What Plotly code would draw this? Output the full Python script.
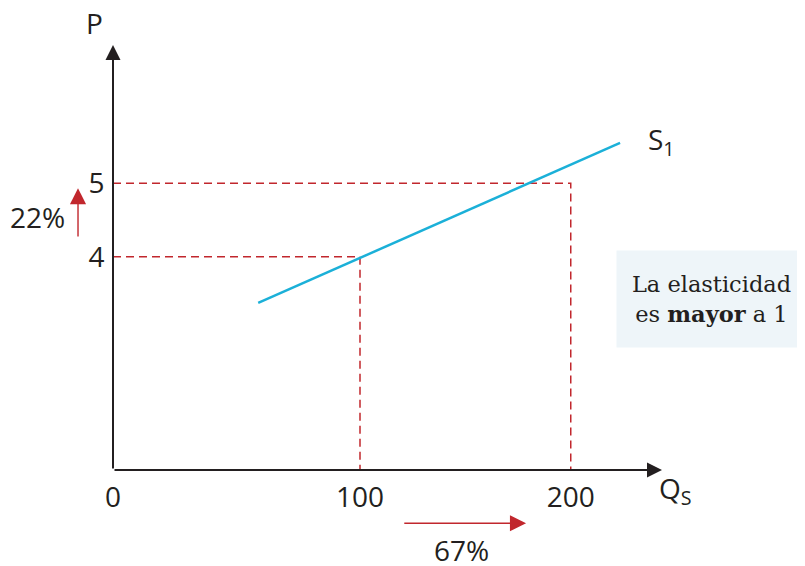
import plotly.graph_objects as go

# ---- data ----
q_points = [100, 200]          # quantity supplied
p_points = [4, 5]              # prices
supply_x = [51.7, 223.4]       # S1 line endpoints (quantity)
supply_y = [3.37, 5.55]        # S1 line endpoints (price)
x_tick_labels = ["0", "100", "200"]
y_tick_labels = ["4", "5"]
pct_price = "22%"
pct_qty = "67%"
box_text = "La elasticidad<br>es <b>mayor</b> a 1"

# ---- axis extents (scale) ----
X0, X1 = -17.2, 243.3
Y0, Y1 = 1.094, 6.884

# page body adds an 8px offset, so the figure is made a little smaller
W_FIG, H_FIG = 797, 558
M = dict(l=105, r=143, t=37, b=96)
KX = (W_FIG - M["l"] - M["r"]) / (X1 - X0)
KY = (H_FIG - M["t"] - M["b"]) / (Y1 - Y0)


def px(x):
    return (x - X0) / (X1 - X0)


def py(y):
    return (y - Y0) / (Y1 - Y0)


SANS = "Open Sans, Noto Sans, sans-serif"
DARK = "#231F20"
RED = "#C1272D"
CYAN = "#1BB0D8"
FS = 28

fig = go.Figure()

# dashed guide lines
for q, p in zip(q_points, p_points):
    fig.add_trace(go.Scatter(x=[X0, q, q], y=[p, p, Y0], mode="lines",
                             line=dict(color=RED, width=1.5, dash="8px,5px"),
                             hoverinfo="skip", showlegend=False))

# supply line
fig.add_trace(go.Scatter(x=supply_x, y=supply_y, mode="lines",
                         line=dict(color=CYAN, width=2.5),
                         hoverinfo="skip", showlegend=False))


def arrow(x_head, y_head, x_tail, y_tail, color, width, size):
    return dict(x=px(x_head), y=py(y_head), xref="paper", yref="paper",
                ax=(x_tail - x_head) * KX, ay=-(y_tail - y_head) * KY,
                axref="pixel", ayref="pixel", text="", showarrow=True,
                arrowhead=2, arrowsize=size, arrowwidth=width,
                arrowcolor=color, standoff=0)


def label(x, y, text, xanchor="center", size=FS):
    return dict(x=px(x), y=py(y), xref="paper", yref="paper", text=text,
                showarrow=False, xanchor=xanchor, yanchor="middle",
                font=dict(family=SANS, size=size, color=DARK))


ann = []
# axes with arrows
ann.append(arrow(X1, Y0, X0, Y0, DARK, 2, 1.5))
ann.append(arrow(X0, Y1, X0, Y0, DARK, 2, 1.5))
# red percentage arrows
ann.append(arrow(-33.8, 4.933, -33.8, 4.255, RED, 1.4, 2.3))
ann.append(arrow(178.8, 0.368, 120.3, 0.368, RED, 1.4, 2.3))
# labels
ann.append(label(-52.8, 4.54, pct_price))
ann.append(label(148.4, 0.0, pct_qty))
ann.append(label(-25.8, 7.18, "P"))
ann.append(label(241.0, 0.82, "Q<sub>S</sub>", xanchor="left"))
ann.append(label(235.8, 5.57, "S<sub>1</sub>", xanchor="left"))
# text box
ann.append(dict(x=px(221.5), y=py(3.424), xref="paper", yref="paper", text=box_text,
                showarrow=False, xanchor="left", yanchor="middle",
                width=189, height=96, borderpad=0,
                bgcolor="#EEF5F9", align="center",
                font=dict(family="DejaVu Serif, serif", size=22.5, color=DARK)))

fig.update_layout(
    width=W_FIG, height=H_FIG,
    margin=M,
    paper_bgcolor="white", plot_bgcolor="white",
    annotations=ann,
    xaxis=dict(range=[X0, X1], showgrid=False, zeroline=False, showline=False,
               tickmode="array", tickvals=[X0] + q_points, ticktext=x_tick_labels,
               ticks="outside", ticklen=2, tickcolor="rgba(0,0,0,0)",
               tickfont=dict(family=SANS, size=FS, color=DARK)),
    yaxis=dict(range=[Y0, Y1], showgrid=False, zeroline=False, showline=False,
               tickmode="array", tickvals=p_points, ticktext=y_tick_labels,
               ticks="outside", ticklen=2, tickcolor="rgba(0,0,0,0)",
               tickfont=dict(family=SANS, size=FS, color=DARK)),
)

fig.write_html("out.html")
